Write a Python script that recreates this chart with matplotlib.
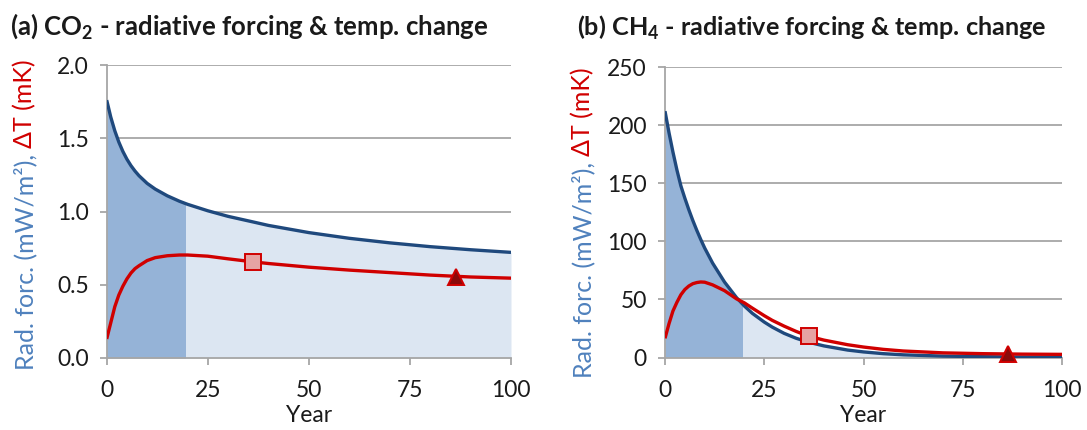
import numpy as np
import matplotlib
matplotlib.use("Agg")
import matplotlib.pyplot as plt
from matplotlib.patches import Rectangle

# ---------------- data ----------------
co2_years = [0, 1, 2, 3, 4, 5, 6, 7, 8, 10, 12, 15, 18, 20, 25, 30, 36, 40, 50, 60, 70, 80, 90, 100]
co2_rf = [1.76, 1.645, 1.551, 1.474, 1.410, 1.357, 1.313, 1.276, 1.244, 1.192, 1.153, 1.107,
          1.070, 1.049, 1.005, 0.967, 0.93, 0.905, 0.856, 0.817, 0.786, 0.760, 0.739, 0.721]
co2_dt = [0.13, 0.24, 0.35, 0.43, 0.49, 0.54, 0.58, 0.61, 0.63, 0.665, 0.685, 0.698,
          0.703, 0.703, 0.695, 0.677, 0.657, 0.645, 0.62, 0.60, 0.583, 0.566, 0.553, 0.545]
co2_markers_year = [36.3, 86.3]
co2_markers_val = [0.657, 0.556]

ch4_years = [0, 1, 2, 3, 4, 5, 6, 7, 8, 9, 10, 12, 15, 18, 20, 22, 25, 27, 30, 33, 36, 40, 46,
             50, 55, 60, 70, 80, 90, 100]
ch4_rf = [212, 193.6, 176.8, 161.4, 147.7, 137.1, 127.2, 118.0, 109.5, 101.6, 94.2, 81.2, 64.9,
          51.6, 44.3, 38.0, 30.5, 26.2, 20.8, 16.6, 13.3, 10.0, 6.4, 4.8, 3.3, 2.3, 1.2, 0.7, 0.4, 0.3]
ch4_dt = [16.5, 29, 40, 47.5, 54, 58.5, 61.5, 63.5, 64.5, 65, 64.8, 62.5, 57.5,
          50.5, 47, 42.5, 36.0, 32.0, 27, 22.5, 18.5, 15, 11, 9, 7.0, 5.6, 4.0, 3.3, 2.9, 2.7]
ch4_markers_year = [36.3, 86.3]
ch4_markers_val = [18.1, 3.0]

xticks = [0, 25, 50, 75, 100]
co2_yticks = [0.0, 0.5, 1.0, 1.5, 2.0]
ch4_yticks = [0, 50, 100, 150, 200, 250]
split_year = 19.3

# ---------------- style ----------------
FONT = ['Lato', 'DejaVu Sans']
plt.rcParams['font.family'] = FONT
plt.rcParams['mathtext.fontset'] = 'custom'
plt.rcParams['mathtext.rm'] = 'Lato'
plt.rcParams['mathtext.bf'] = 'Lato:bold'

BLUE = '#1F497D'
DARKFILL = '#95B3D7'
LIGHTFILL = '#DCE6F2'
RED = '#D00000'
SQFACE = '#E6A3A3'
TRIFACE = '#8B0A0A'
GRID = '#A6A6A6'
LBLUE = '#4F81BD'
TXT = '#1a1a1a'

fig = plt.figure(figsize=(10.87, 4.30), dpi=100)
W, H = 1087, 430


def make_axes(x0, x1, ytop, ybot):
    return fig.add_axes([x0 / W, 1 - ybot / H, (x1 - x0) / W, (ybot - ytop) / H])


ax1 = make_axes(106.7, 511, 65, 358)
ax2 = make_axes(665, 1062, 67, 357.5)


def style(ax, years, rf, dt, my, mv, yticks, ylim, fmt):
    ax.set_xlim(0, 100)
    ax.set_ylim(*ylim)
    top = ylim[1]
    ax.fill_between(years, rf, 0, color=LIGHTFILL, lw=0, zorder=1)
    dark = ax.fill_between(years, rf, 0, color=DARKFILL, lw=0, zorder=1.5)
    clip = Rectangle((0, 0), split_year, top, transform=ax.transData)
    dark.set_clip_path(clip)
    for yt in yticks[1:]:
        ax.axhline(yt, color=GRID, lw=1.3, zorder=0.5)
    ax.plot(years, rf, color=BLUE, lw=2.4, zorder=3, solid_capstyle='butt')
    ax.plot(years, dt, color=RED, lw=2.4, zorder=4, solid_capstyle='butt')
    ax.plot(my[0], mv[0], marker='s', ms=11, mfc=SQFACE, mec=RED, mew=1.4, zorder=5,
            clip_on=False)
    ax.plot(my[1], mv[1], marker='^', ms=11, mfc=TRIFACE, mec=RED, mew=1.4, zorder=5,
            clip_on=False)
    for s in ['top', 'right']:
        ax.spines[s].set_visible(False)
    for s in ['left', 'bottom']:
        ax.spines[s].set_color(GRID)
        ax.spines[s].set_linewidth(1.3)
    ax.set_xticks(xticks)
    ax.set_xticklabels([str(x) for x in xticks])
    ax.set_yticks(yticks)
    ax.set_yticklabels([fmt(v) for v in yticks])
    ax.tick_params(axis='both', direction='out', length=5, width=1.3, color=GRID,
                   labelsize=16.5, labelcolor=TXT)
    ax.tick_params(axis='y', pad=8)
    ax.tick_params(axis='x', pad=11)
    ax.set_xlabel('Year', fontsize=16.5, color=TXT, labelpad=3)
    ax.patch.set_visible(False)


style(ax1, co2_years, co2_rf, co2_dt, co2_markers_year, co2_markers_val,
      co2_yticks, (0, 2.0), lambda v: f"{v:.1f}")
style(ax2, ch4_years, ch4_rf, ch4_dt, ch4_markers_year, ch4_markers_val,
      ch4_yticks, (0, 250), lambda v: f"{int(v)}")

fig.text(10 / W, 1 - 26 / H, r"(a) CO$_\mathbf{2}$ - radiative forcing & temp. change",
         fontsize=18.5, fontweight='bold', va='center', ha='left', color=TXT)
fig.text(577 / W, 1 - 28 / H, r"(b) CH$_\mathbf{4}$ - radiative forcing & temp. change",
         fontsize=18.2, fontweight='bold', va='center', ha='left', color=TXT)

# two-colour rotated y labels
fig.canvas.draw()
renderer = fig.canvas.get_renderer()
for xc, ybottom in [(25, 370), (583, 378)]:
    t1 = fig.text(xc / W, 1 - ybottom / H, "Rad. forc. (mW/m²), ", rotation=90,
                  fontsize=18, color=LBLUE, ha='center', va='bottom')
    bb = t1.get_window_extent(renderer)
    ytop = bb.y1 / fig.dpi / fig.get_figheight()
    fig.text(xc / W, ytop, "ΔT (mK)", rotation=90, fontsize=18, color=RED,
             ha='center', va='bottom')

fig.savefig('out.png', dpi=100)
